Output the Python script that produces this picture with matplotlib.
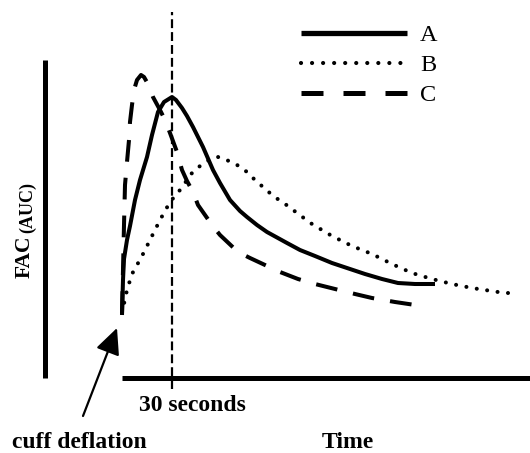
import matplotlib
matplotlib.use("Agg")
import matplotlib.pyplot as plt

# schematic: time in seconds after cuff deflation, FAC in arbitrary units
t_A = [0, 0.6, 1.2, 3.0, 4.8, 7.8, 10.8, 15.0, 18.0, 21.6, 25.2, 30.0, 32.4, 36.0, 39.0, 42.6,
       48.6, 54.6, 58.8, 64.8, 70.8, 75.0, 81.0, 87.0, 99.0, 106.8, 115.8, 126.0, 136.8,
       145.8, 156.0, 165.6, 175.8, 187.8]
fac_A = [0.63, 0.98, 1.19, 1.38, 1.52, 1.78, 1.98, 2.21, 2.43, 2.66, 2.76, 2.81, 2.78, 2.70, 2.62, 2.51,
         2.31, 2.08, 1.95, 1.78, 1.67, 1.61, 1.53, 1.46, 1.35, 1.28, 1.22, 1.15, 1.09,
         1.04, 0.99, 0.95, 0.94, 0.94]

t_B = [0, 3.0, 6.0, 9.0, 12.0, 15.0, 18.0, 22.8, 28.8, 34.8, 42.0, 46.8, 52.2, 57.6, 64.2, 70.2,
       75.0, 79.8, 84.6, 89.4, 94.2, 99.6, 105.0, 114.0, 126.0, 138.0, 150.0, 162.0, 174.0,
       186.0, 198.0, 210.0, 225.6, 237.6]
fac_B = [0.65, 0.88, 1.04, 1.13, 1.22, 1.32, 1.42, 1.58, 1.76, 1.88, 2.05, 2.12, 2.18, 2.21, 2.17, 2.12,
         2.06, 1.98, 1.91, 1.84, 1.78, 1.72, 1.65, 1.54, 1.42, 1.32, 1.24, 1.14, 1.05,
         0.99, 0.94, 0.90, 0.86, 0.84]

t_C = [0, 0.6, 1.2, 1.8, 3.0, 4.2, 4.8, 6.0, 7.2, 9.0, 11.4, 13.2, 15.6, 18.6, 22.8, 25.8,
       28.8, 33.0, 36.0, 39.0, 42.6, 45.6, 54.0, 58.8, 69.6, 76.8, 85.8, 94.8, 105.6, 115.8,
       127.8, 139.8, 150.0, 163.8, 180.0]
fac_C = [0.65, 1.08, 1.53, 1.93, 2.16, 2.38, 2.56, 2.73, 2.88, 2.98, 3.03, 3.01, 2.94, 2.81, 2.68, 2.58,
         2.45, 2.26, 2.08, 1.97, 1.86, 1.73, 1.53, 1.43, 1.26, 1.20, 1.13, 1.06, 0.99, 0.94,
         0.89, 0.84, 0.80, 0.76, 0.72]

labels = ["A", "B", "C"]
t_mark = 30  # seconds

serif = ["Liberation Serif", "DejaVu Serif"]

fig = plt.figure(figsize=(5.3, 4.53), dpi=100)
ax = fig.add_axes([0, 0, 1, 1])
ax.set_xlim(-73.2, 244.8)
ax.set_ylim(-0.75, 3.78)
ax.axis("off")

lw = 2.9
styles = [dict(linestyle="-", solid_capstyle="butt"),
          dict(linestyle=(0, (0.01, 2.6)), dash_capstyle="round"),
          dict(linestyle=(0, (5.4, 4.0)), dash_capstyle="butt")]
series = [(t_A, fac_A), (t_B, fac_B), (t_C, fac_C)]

for (tt, ff), st in zip(series, styles):
    ax.plot(tt, ff, color="black", lw=lw, solid_joinstyle="round", dash_joinstyle="round", **st)

# axis bars
ax.plot([-46.5, -46.5], [0, 3.18], color="black", lw=3.6, solid_capstyle="butt")
ax.plot([0, 244.8], [0, 0], color="black", lw=3.6, solid_capstyle="butt")
ax.plot([t_mark, t_mark], [-0.11, 3.66], color="black", lw=1.6, linestyle=(0, (4.0, 1.8)))

# legend drawn by hand
leg_y = [3.45, 3.15, 2.85]
leg_styles = [dict(lw=3.8, linestyle="-", solid_capstyle="butt"),
              dict(lw=3.0, linestyle=(0, (0.01, 2.64)), dash_capstyle="round"),
              dict(lw=3.6, linestyle=(0, (4.4, 4.0)), dash_capstyle="butt")]
for lab, st, yy in zip(labels, leg_styles, leg_y):
    ax.plot([107.4, 171], [yy, yy], color="black", **st)
    ax.text(178.8, yy - 0.03, lab, family=serif, fontsize=17.5, va="center", ha="left")

ax.text(42, -0.33, "30 seconds", family=serif, fontweight="bold", fontsize=17,
        ha="center", va="baseline")
ax.text(-66, -0.70, "cuff deflation", family=serif, fontweight="bold", fontsize=17,
        ha="left", va="baseline")
ax.text(120, -0.70, "Time", family=serif, fontweight="bold", fontsize=17,
        ha="left", va="baseline")

# y label: FAC with (AUC) as subscript
ax.text(-55.2, 1.00, "FAC", family=serif, fontweight="bold", fontsize=15.5,
        rotation=90, rotation_mode="anchor", ha="left", va="baseline")
ax.text(-54.0, 1.45, "(AUC)", family=serif, fontweight="bold", fontsize=13,
        rotation=90, rotation_mode="anchor", ha="left", va="baseline")

ax.annotate("", xy=(-3.0, 0.50), xytext=(-23.4, -0.38),
            arrowprops=dict(arrowstyle="-|>,head_length=1.6,head_width=0.75",
                            color="black", lw=1.6, shrinkA=0, shrinkB=0))

fig.savefig("out.png", dpi=100)
